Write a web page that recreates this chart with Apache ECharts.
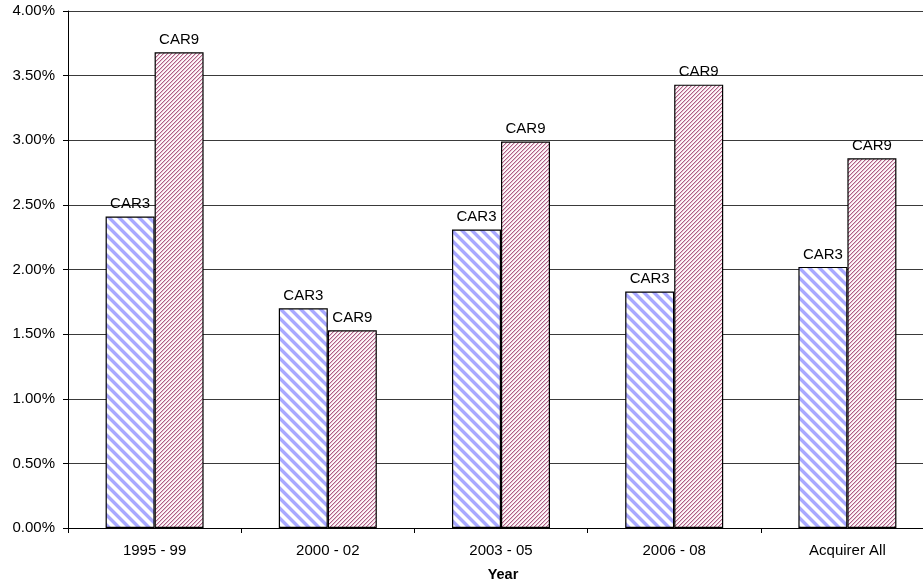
<!DOCTYPE html>
<html>
<head>
<meta charset="utf-8">
<script src="https://cdn.jsdelivr.net/npm/echarts@6/dist/echarts.min.js"></script>
<style>html,body{margin:0;padding:0;background:#fff;overflow:hidden;}#c{width:923px;height:583px;}</style>
</head>
<body>
<div id="c"></div>
<script>
const categories = ['1995 - 99', '2000 - 02', '2003 - 05', '2006 - 08', 'Acquirer All'];
const car3 = [2.41, 1.70, 2.31, 1.83, 2.02];
const car9 = [3.68, 1.53, 2.99, 3.43, 2.86];
const seriesNames = ['CAR3', 'CAR9'];

// pixel-exact hatch tiles
function hatch(size, pick) {
  const c = document.createElement('canvas');
  c.width = size; c.height = size;
  const g = c.getContext('2d');
  for (let y = 0; y < size; y++) for (let x = 0; x < size; x++) {
    g.fillStyle = pick(x, y);
    g.fillRect(x, y, 1, 1);
  }
  return c;
}
const pat3 = { image: hatch(10, (x, y) => {
  const m = ((x - y) % 10 + 10) % 10;
  return m < 4 ? '#a9a9ff' : (m === 4 || m === 9) ? '#dadaff' : '#ffffff';
}), repeat: 'repeat' };
const pat9 = { image: hatch(4, (x, y) => {
  const m = (x + y) % 4;
  return m === 0 ? '#ad5e85' : m === 1 ? '#e4c0d0' : '#fdf6f9';
}), repeat: 'repeat' };

const chart = echarts.init(document.getElementById('c'), null, { renderer: 'canvas' });
const font = 'Arial, "Liberation Sans", sans-serif';
const labelCfg = { show: true, position: 'top', distance: 5, color: '#000', fontFamily: font, fontSize: 15, formatter: p => p.seriesName };
chart.setOption({
  animation: false,
  backgroundColor: '#fff',
  grid: { left: 68, right: -11, top: 11, bottom: 55, containLabel: false, outerBoundsMode: 'none' },
  xAxis: {
    type: 'category', data: categories,
    name: 'Year', nameLocation: 'middle', nameGap: 39,
    nameTextStyle: { fontFamily: font, fontSize: 14.5, fontWeight: 'bold', color: '#000', padding: [0, 0, 0, 4] },
    axisLine: { lineStyle: { color: '#000', width: 1 } },
    axisTick: { show: true, alignWithLabel: false, length: 5, inside: false, lineStyle: { color: '#000' } },
    axisLabel: { color: '#000', fontFamily: font, fontSize: 15, margin: 15 }
  },
  yAxis: {
    type: 'value', min: 0, max: 4, interval: 0.5,
    axisLine: { show: true, lineStyle: { color: '#000', width: 1 } },
    axisTick: { show: true, length: 5, lineStyle: { color: '#000' } },
    axisLabel: { color: '#000', fontFamily: font, fontSize: 15, margin: 13, formatter: v => v.toFixed(2) + '%' },
    splitLine: { show: true, lineStyle: { color: '#3a3a3a', width: 1 } }
  },
  series: [
    { name: seriesNames[0], type: 'bar', data: car3, barWidth: 49, barGap: '0%',
      itemStyle: { color: pat3, borderColor: '#000', borderWidth: 1.2 }, label: labelCfg },
    { name: seriesNames[1], type: 'bar', data: car9, barWidth: 49, barGap: '0%',
      itemStyle: { color: pat9, borderColor: '#000', borderWidth: 1.2 }, label: labelCfg }
  ]
});
</script>
</body>
</html>
